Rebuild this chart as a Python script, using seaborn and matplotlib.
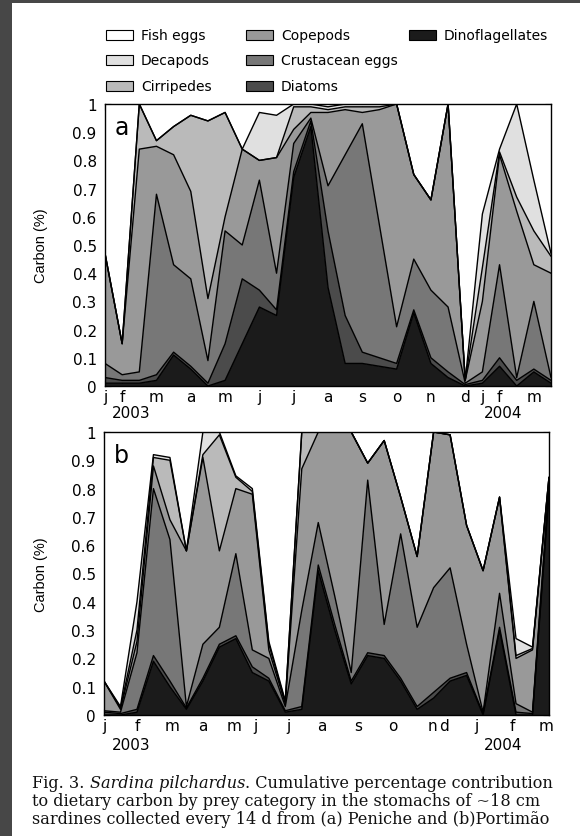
import numpy as np
import matplotlib
matplotlib.use("Agg")
import matplotlib.pyplot as plt
import seaborn as sns
from matplotlib.patches import Rectangle
from matplotlib.text import Annotation

# prey categories, bottom of the stack first
categories = ["Dinoflagellates", "Diatoms", "Crustacean eggs", "Copepods",
              "Cirripedes", "Decapods", "Fish eggs"]
legend_order = ["Fish eggs", "Decapods", "Cirripedes",
                "Copepods", "Crustacean eggs", "Diatoms", "Dinoflagellates"]
palette = {"Fish eggs": "#ffffff", "Decapods": "#e0e0e0", "Cirripedes": "#bababa",
           "Copepods": "#999999", "Crustacean eggs": "#777777",
           "Diatoms": "#4b4b4b", "Dinoflagellates": "#1b1b1b"}

# (a) Peniche - cumulative carbon fraction at the top of each category
dino_a = [0.01, 0.01, 0.01, 0.02, 0.11, 0.06, 0.00, 0.02, 0.15, 0.28, 0.25, 0.74, 0.92, 0.35,
          0.08, 0.08, 0.07, 0.06, 0.26, 0.08, 0.03, 0.00, 0.01, 0.07, 0.00, 0.05, 0.01]
diatoms_a = [0.03, 0.02, 0.02, 0.04, 0.12, 0.07, 0.01, 0.15, 0.38, 0.34, 0.27, 0.76, 0.94, 0.55,
             0.25, 0.12, 0.10, 0.08, 0.27, 0.10, 0.05, 0.005, 0.02, 0.10, 0.02, 0.06, 0.02]
crust_a = [0.08, 0.04, 0.05, 0.68, 0.43, 0.38, 0.09, 0.55, 0.50, 0.73, 0.40, 0.86, 0.95, 0.71,
           0.82, 0.93, 0.57, 0.21, 0.45, 0.34, 0.28, 0.01, 0.05, 0.43, 0.03, 0.30, 0.03]
cope_a = [0.47, 0.15, 0.84, 0.85, 0.82, 0.69, 0.31, 0.60, 0.84, 0.80, 0.81, 0.91, 0.97, 0.97,
          0.98, 0.97, 0.98, 1.00, 0.75, 0.66, 1.00, 0.02, 0.30, 0.82, 0.62, 0.43, 0.40]
cirri_a = [0.47, 0.15, 1.00, 0.87, 0.92, 0.96, 0.94, 0.97, 0.84, 0.80, 0.81, 0.99, 0.99, 0.98,
           0.99, 0.99, 0.99, 1.00, 0.75, 0.66, 1.00, 0.02, 0.42, 0.83, 0.67, 0.55, 0.46]
deca_a = [0.47, 0.15, 1.00, 0.87, 0.92, 0.96, 0.94, 0.97, 0.84, 0.97, 0.96, 1.00, 1.00, 0.99,
          1.00, 1.00, 1.00, 1.00, 0.75, 0.66, 1.00, 0.02, 0.61, 0.84, 1.00, 0.73, 0.47]

# (b) Portimao
dino_b = [0.00, 0.00, 0.01, 0.19, 0.10, 0.02, 0.12, 0.24, 0.27, 0.15, 0.12, 0.01, 0.02, 0.51,
          0.30, 0.11, 0.21, 0.20, 0.12, 0.02, 0.06, 0.12, 0.14, 0.00, 0.30, 0.00, 0.00, 0.78]
diatoms_b = [0.01, 0.005, 0.02, 0.21, 0.12, 0.025, 0.13, 0.25, 0.28, 0.17, 0.13, 0.015, 0.03, 0.53,
             0.32, 0.12, 0.22, 0.21, 0.13, 0.03, 0.08, 0.13, 0.15, 0.005, 0.31, 0.01, 0.005, 0.80]
crust_b = [0.015, 0.01, 0.22, 0.80, 0.62, 0.03, 0.25, 0.31, 0.57, 0.23, 0.20, 0.03, 0.37, 0.68,
           0.42, 0.15, 0.83, 0.32, 0.64, 0.31, 0.45, 0.52, 0.25, 0.01, 0.43, 0.04, 0.01, 0.82]
cope_b = [0.12, 0.02, 0.26, 0.88, 0.69, 0.58, 0.91, 0.58, 0.80, 0.78, 0.23, 0.04, 0.87, 1.00,
          1.00, 1.00, 0.89, 0.97, 0.77, 0.56, 1.00, 0.99, 0.67, 0.51, 0.77, 0.20, 0.23, 0.84]
cirri_b = [0.12, 0.025, 0.30, 0.91, 0.90, 0.58, 0.92, 0.99, 0.84, 0.79, 0.25, 0.045, 1.00, 1.00,
           1.00, 1.00, 0.89, 0.97, 0.77, 0.56, 1.00, 0.99, 0.67, 0.51, 0.77, 0.21, 0.235, 0.84]
deca_b = [0.12, 0.03, 0.40, 0.92, 0.91, 0.58, 1.00, 1.00, 0.845, 0.80, 0.26, 0.05, 1.00, 1.00,
          1.00, 1.00, 0.89, 0.97, 0.77, 0.56, 1.00, 0.99, 0.67, 0.51, 0.77, 0.27, 0.24, 0.84]

# month initials under the sampling dates
month_labels = ["j", "f", "m", "a", "m", "j", "j", "a", "s", "o", "n", "d", "j", "f", "m"]
month_pos_a = [0, 1, 3, 5, 7, 9, 11, 13, 15, 17, 19, 21, 22, 23, 25]
month_pos_b = [0, 2, 4.1, 6, 7.9, 9.2, 11.2, 13.2, 15.4, 17.5, 19.9, 20.6, 22.6, 24.8, 26.8]

sns.set_theme(style="ticks")
plt.rcParams["font.family"] = ["DejaVu Sans"]
plt.rcParams["text.color"] = "black"
plt.rcParams["axes.labelcolor"] = "black"
plt.rcParams["xtick.color"] = "black"
plt.rcParams["ytick.color"] = "black"

fig = plt.figure(figsize=(5.8, 8.37), dpi=100)
fig.patch.set_facecolor("#474747")
fig.add_artist(Rectangle((12 / 580, 0), 1, 1 - 4 / 837, transform=fig.transFigure,
                         facecolor="white", edgecolor="none", zorder=-10))

W, H = 580, 837


def panel(rect_px, levels, ticks, letter):
    l, t, r, b = rect_px
    ax = fig.add_axes([l / W, 1 - b / H, (r - l) / W, (b - t) / H])
    x = np.arange(len(levels[0]))
    lower = np.zeros(len(x))
    tops = [np.asarray(v) for v in levels] + [np.ones(len(x))]
    for name, top in zip(categories, tops):
        ax.fill_between(x, lower, top, facecolor=palette[name], edgecolor="none", lw=0)
        lower = top
    for top in levels:
        sns.lineplot(x=x, y=top, ax=ax, color="black", lw=1.0, estimator=None)
    ax.set_xlim(0, len(x) - 1)
    ax.set_ylim(0, 1)
    ax.set_xticks(ticks)
    ax.set_xticklabels(month_labels, fontsize=11)
    yt = np.round(np.arange(0, 1.01, 0.1), 1)
    ax.set_yticks(yt)
    ax.set_yticklabels(["0" if v == 0 else "1" if v == 1 else f"{v:.1f}" for v in yt], fontsize=11)
    ax.tick_params(direction="in", top=True, right=True, length=4, width=0.8)
    ax.tick_params(axis="x", pad=2)
    ax.tick_params(axis="y", pad=6)
    for s in ax.spines.values():
        s.set_color("black")
        s.set_linewidth(1.0)
    ax.set_xlabel("")
    ax.set_ylabel("Carbon (%)", fontsize=10.5, family=["Liberation Sans"])
    ax.yaxis.set_label_coords(-(l - 48) / (r - l), 0.5)
    ax.text(0.022, 0.92, letter, transform=ax.transAxes, fontsize=17, va="center", ha="left")
    return ax


panel((105, 105, 551, 387), [dino_a, diatoms_a, crust_a, cope_a, cirri_a, deca_a], month_pos_a, "a")
panel((104, 433, 549, 716), [dino_b, diatoms_b, crust_b, cope_b, cirri_b, deca_b], month_pos_b, "b")

# year labels
for yy in (414, 746):
    fig.text(131 / W, 1 - yy / H, "2003", fontsize=11, ha="center", va="center")
    fig.text(503 / W, 1 - yy / H, "2004", fontsize=11, ha="center", va="center")

# legend drawn in three columns
col_patch_x = [106, 246, 409]
row_y = [36, 61, 87]
for k, name in enumerate(legend_order):
    c, rr = k // 3, k % 3
    px, py = col_patch_x[c], row_y[rr]
    fig.add_artist(Rectangle((px / W, 1 - (py + 5) / H), 27 / W, 10 / H,
                             transform=fig.transFigure, facecolor=palette[name],
                             edgecolor="black", lw=0.8))
    fig.text((px + 35) / W, 1 - py / H, name, fontsize=10, va="center", ha="left")

# caption
cap_font = dict(family="DejaVu Serif", fontsize=11.6, color="#111111")
t1 = fig.text(32 / W, 1 - 788 / H, "Fig. 3. ", va="baseline", **cap_font)
t2 = Annotation("Sardina pilchardus", xy=(1, 0), xycoords=t1, va="bottom",
                style="italic", **cap_font)
fig.add_artist(t2)
t3 = Annotation(". Cumulative percentage contribution", xy=(1, 0), xycoords=t2,
                va="bottom", **cap_font)
fig.add_artist(t3)
fig.text(32 / W, 1 - 806 / H, "to dietary carbon by prey category in the stomachs of ~18 cm",
         va="baseline", **cap_font)
fig.text(32 / W, 1 - 824 / H, "sardines collected every 14 d from (a) Peniche and (b)Portimão",
         va="baseline", **cap_font)

fig.savefig("out.png", dpi=100, facecolor=fig.get_facecolor())
